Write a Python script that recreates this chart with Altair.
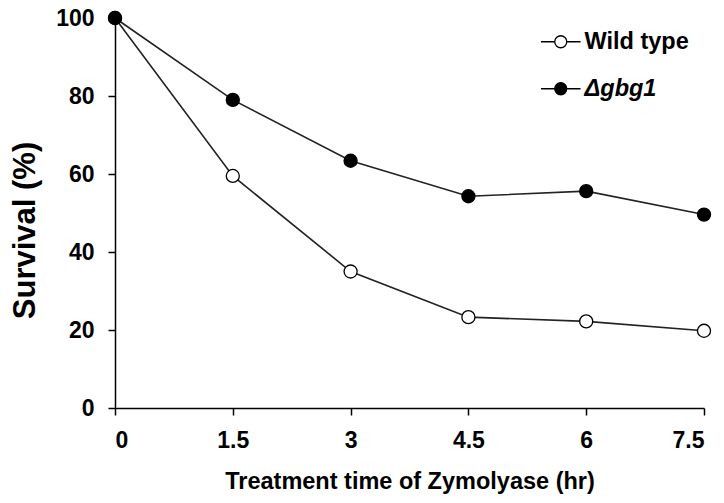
import altair as alt
import pandas as pd

times = [0, 1.5, 3, 4.5, 6, 7.5]
wild_type = [100, 59.5, 35.0, 23.3, 22.2, 19.8]
gbg1 = [100, 79.0, 63.4, 54.3, 55.6, 49.6]
series_names = ["Wild type", "\u0394gbg1"]
x_ticks = [0, 1.5, 3, 4.5, 6, 7.5]
y_ticks = [0, 20, 40, 60, 80, 100]

rows = []
for t, v in zip(times, wild_type):
    rows.append({"time": t, "survival": v, "strain": series_names[0]})
for t, v in zip(times, gbg1):
    rows.append({"time": t, "survival": v, "strain": series_names[1]})
df = pd.DataFrame(rows)

FONT = "Liberation Sans"

x_enc = alt.X("time:Q",
              scale=alt.Scale(domain=[0, 7.5], nice=False, zero=False),
              axis=alt.Axis(values=x_ticks, labelExpr="datum.value + ''",
                            title="Treatment time of Zymolyase (hr)",
                            grid=False, tickSize=7, labelPadding=14,
                            titlePadding=17, titleFontSize=23.5))
y_enc = alt.Y("survival:Q",
              scale=alt.Scale(domain=[0, 100], nice=False),
              axis=alt.Axis(values=y_ticks, title="Survival (%)",
                            grid=False, tickSize=7, labelPadding=14,
                            titleFontSize=31, titleY=212, titleX=-90,
                            titleAlign="center", titleBaseline="middle",
                            titleAngle=270))

legend_path = "M-3.3,0L-1,0M1,0L3.3,0M-1,0A1,1,0,1,1,1,0A1,1,0,1,1,-1,0Z"

lines = alt.Chart(df).mark_line(color="#222222", strokeWidth=1.6).encode(
    x=x_enc, y=y_enc, detail="strain:N"
)

points = alt.Chart(df).mark_point(filled=True, size=170, stroke="black",
                                  strokeWidth=1.3, opacity=1).encode(
    x=x_enc, y=y_enc,
    fill=alt.Fill("strain:N",
                  scale=alt.Scale(domain=series_names, range=["white", "black"]),
                  sort=series_names,
                  legend=alt.Legend(
                      title=None, orient="none", legendX=434, legendY=12,
                      symbolType=legend_path, symbolSize=144,
                      symbolStrokeColor="black", symbolStrokeWidth=1.3,
                      labelFont=FONT, labelFontSize=23.5, labelFontWeight="bold",
                      labelColor="black", labelOffset=12, rowPadding=22,
                      padding=0,
                      labelFontStyle={"expr": "datum.value == '\u0394gbg1' ? 'italic' : 'normal'"},
                  )),
)

chart = alt.layer(lines, points).properties(
    width=589, height=390,
    autosize=alt.AutoSizeParams(type="none"),
    padding={"left": 107, "top": 10, "right": 8, "bottom": 87},
).configure_view(stroke=None).configure_axis(
    labelFont=FONT, labelFontSize=23, labelFontWeight="bold", labelColor="black",
    titleFont=FONT, titleFontWeight="bold", titleColor="black",
    domainColor="black", domainWidth=1.5, tickColor="black", tickWidth=1.5,
)

chart.save("out.html", embed_options={"renderer": "svg", "actions": False})
